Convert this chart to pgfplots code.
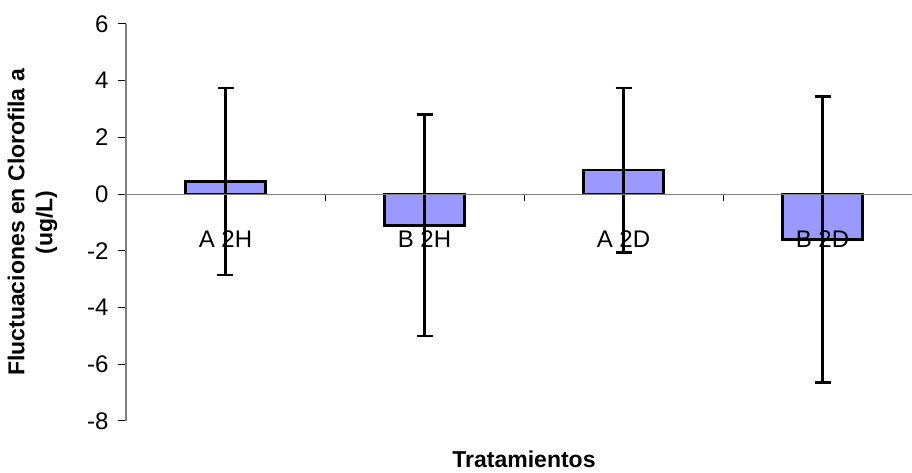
\documentclass[border=0pt]{standalone}
\usepackage{pgfplots}
\pgfplotsset{compat=1.18}
\usepackage{fontspec}
\setmainfont{Liberation Sans}
\definecolor{barfill}{HTML}{9999FF}
\definecolor{axisgray}{HTML}{808080}
\begin{document}
\begin{tikzpicture}
\begin{axis}[
    at={(0,0)}, anchor=south west,
    scale only axis,
    width=796pt, height=397pt,
    xmin=-0.5, xmax=3.5,
    ymin=-8, ymax=6,
    axis y line=left,
    axis x line=middle,
    axis on top,
    axis line style={-, draw=axisgray, line width=1.2pt},
    xtick={0,1,2,3},
    xticklabels={A 2H, B 2H, A 2D, B 2D},
    major x tick style={draw=none},
    minor xtick={-0.5,0.5,1.5,2.5},
    minor x tick style={black, line width=1pt},
    minor tick length=7pt,
    xtick align=outside,
    ytick={-8,-6,...,6},
    ytick align=outside,
    major y tick style={black, line width=1pt},
    major tick length=8pt,
    /pgf/number format/assume math mode=true,
    tick label style={font=\fontsize{24}{28}\selectfont, text=black},
    xticklabel style={anchor=center, yshift=-37pt},
    yticklabel style={xshift=-6pt},
    ylabel={Fluctuaciones en Clorofila a\\(ug/L)},
    ylabel style={at={(axis description cs:-0.1175,0.5)}, anchor=center,
        align=center, font=\fontsize{23}{28}\selectfont\bfseries},
    xlabel={Tratamientos},
    xlabel style={at={(axis description cs:0.5,-0.097)}, anchor=center,
        font=\fontsize{23}{26}\selectfont\bfseries},
    clip=false,
]
\addplot[
    ybar, bar width=80pt,
    fill=barfill, draw=black, line width=2.4pt,
    error bars/.cd,
      y dir=both, y explicit,
      error bar style={black, line width=2.5pt},
      error mark options={rotate=90, mark size=8pt, line width=2.5pt, black},
    ]
    coordinates {
    (0,0.45) +- (0,3.3)
    (1,-1.1) +- (0,3.9)
    (2,0.85) +- (0,2.9)
    (3,-1.6) +- (0,5.05)
    };
\end{axis}
\pgfresetboundingbox
\path (-126pt,-52pt) rectangle (786pt,421pt);
\end{tikzpicture}
\end{document}
